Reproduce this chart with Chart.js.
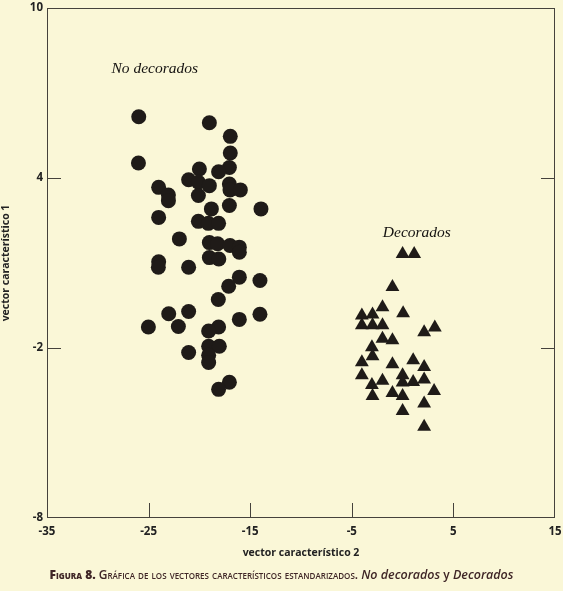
<!DOCTYPE html>
<html>
<head>
<meta charset="utf-8">
<script src="https://cdn.jsdelivr.net/npm/chart.js@4.4.1/dist/chart.umd.min.js"></script>
<style>
  html, body { margin: 0; padding: 0; background: #faf7d7; }
  #wrap { position: relative; width: 563px; height: 591px; }
  #caption {
    position: absolute; left: 0; width: 563px; top: 566px;
    text-align: center; font-family: "Open Sans", sans-serif; font-size: 12px;
    font-weight: 600; font-variant: small-caps; color: #3f2626;
  }
  #caption i { font-variant: normal; font-weight: 600; font-size: 12.5px; }
</style>
</head>
<body>
<div id="wrap">
  <canvas id="chart" width="563" height="591"></canvas>
  <div id="caption"><b>Figura 8.</b> Gráfica de los vectores característicos estandarizados. <i>No decorados</i> <span style="font-variant:normal">y</span> <i>Decorados</i></div>
</div>
<script>
// vector característico 2 (x) / vector característico 1 (y)
const noDecoradosX = [-25.97, -19.02, -16.96, -16.96, -17.05, -26.0, -20.0, -18.11, -21.06, -20.10,
  -19.02, -24.01, -17.05, -16.99, -15.97, -23.05, -23.05, -20.10, -13.94, -17.05,
  -18.82, -24.01, -20.10, -19.12, -18.11, -21.97, -19.02, -18.21, -16.99, -16.07,
  -16.07, -19.02, -18.09, -24.01, -24.04, -21.06, -16.07, -14.04, -17.12, -18.14,
  -23.02, -21.06, -14.04, -16.07, -25.02, -22.07, -18.11, -19.09, -19.09, -18.04,
  -19.09, -21.06, -19.09, -17.05, -18.11];
const noDecoradosY = [6.16, 5.95, 5.47, 4.88, 4.37, 4.53, 4.32, 4.22, 3.94, 3.85,
  3.73, 3.67, 3.79, 3.58, 3.58, 3.40, 3.20, 3.38, 2.91, 3.03,
  2.91, 2.61, 2.47, 2.40, 2.40, 1.85, 1.72, 1.68, 1.62, 1.56,
  1.38, 1.19, 1.14, 1.04, 0.85, 0.85, 0.50, 0.38, 0.18, -0.29,
  -0.79, -0.71, -0.81, -0.99, -1.26, -1.24, -1.26, -1.40, -1.94, -1.94,
  -2.26, -2.16, -2.51, -3.21, -3.46];

const decoradosX = [0.0, 1.14, -1.0, -1.98, 0.05, -4.01, -2.96, -4.01, -2.96, -1.98,
  2.12, 3.17, -1.98, -1.0, -3.02, -2.96, -4.01, -1.0, 1.04, 2.12,
  -4.01, 0.0, -1.98, 0.0, 1.04, 2.12, -3.02, 3.10, -1.0, -2.96,
  0.0, 2.12, 0.0, 2.12];
const decoradosY = [1.32, 1.32, 0.15, -0.56, -0.77, -0.85, -0.82, -1.20, -1.20, -1.20,
  -1.44, -1.28, -1.67, -1.73, -1.97, -2.29, -2.50, -2.57, -2.43, -2.67,
  -2.96, -2.96, -3.16, -3.22, -3.20, -3.11, -3.31, -3.52, -3.59, -3.69,
  -3.69, -3.96, -4.22, -4.78];

const xTicks = [-35, -25, -15, -5, 5, 15];
const yTicks = [-8, -2, 4, 10];
const groupNames = ["No decorados", "Decorados"];

const ink = "#1f1b18";
const axisFont = { family: "'Open Sans', sans-serif", size: 11.5, weight: "bold" };
const titleFont = { family: "'Open Sans', sans-serif", size: 10.5, weight: "bold" };

function toPoints(xs, ys) {
  return xs.map((x, i) => ({ x: x, y: ys[i] }));
}

// frame round the plot area, inward tick marks and the two group labels
const framePlugin = {
  id: "frame",
  afterDraw(chart) {
    const ctx = chart.ctx;
    const a = chart.chartArea;
    const xs = chart.scales.x, ys = chart.scales.y;
    ctx.save();
    ctx.strokeStyle = "#45423c";
    ctx.lineWidth = 1;
    ctx.strokeRect(a.left + 0.5, a.top + 0.5, a.right - a.left - 1, a.bottom - a.top - 1);
    ctx.beginPath();
    xTicks.slice(1, -1).forEach(v => {
      const px = Math.round(xs.getPixelForValue(v)) + 0.5;
      ctx.moveTo(px, a.bottom);
      ctx.lineTo(px, a.bottom - 15);
    });
    yTicks.slice(1, -1).forEach(v => {
      const py = Math.round(ys.getPixelForValue(v)) + 0.5;
      ctx.moveTo(a.left, py);
      ctx.lineTo(a.left + 14, py);
      ctx.moveTo(a.right, py);
      ctx.lineTo(a.right - 14, py);
    });
    ctx.stroke();

    ctx.fillStyle = "#141210";
    ctx.font = "italic 15.5px 'Liberation Serif', serif";
    ctx.textAlign = "center";
    ctx.textBaseline = "middle";
    ctx.fillText(groupNames[0], xs.getPixelForValue(-24.4), ys.getPixelForValue(7.85));
    ctx.fillText(groupNames[1], xs.getPixelForValue(1.4), ys.getPixelForValue(2.05));
    ctx.restore();
  }
};

new Chart(document.getElementById("chart"), {
  type: "scatter",
  data: {
    datasets: [{
      label: groupNames[0],
      data: toPoints(noDecoradosX, noDecoradosY),
      pointStyle: "circle",
      pointRadius: 7.5,
      backgroundColor: ink,
      borderColor: ink,
      borderWidth: 0
    }, {
      label: groupNames[1],
      data: toPoints(decoradosX, decoradosY),
      pointStyle: "triangle",
      pointRadius: 8,
      backgroundColor: ink,
      borderColor: ink,
      borderWidth: 0
    }]
  },
  options: {
    responsive: false,
    animation: false,
    layout: { padding: { left: 0, right: 5, top: 6, bottom: 32 } },
    plugins: {
      legend: { display: false },
      tooltip: { enabled: false }
    },
    scales: {
      x: {
        type: "linear",
        min: -35,
        max: 15,
        afterBuildTicks: s => { s.ticks = xTicks.map(v => ({ value: v })); },
        afterFit: s => { s.height = 41; s.paddingLeft = 0; s.paddingRight = 0; },
        grid: { display: false, drawTicks: false },
        border: { display: false },
        ticks: { color: "#222", font: axisFont, padding: 7, maxRotation: 0, autoSkip: false },
        title: {
          display: true,
          text: "vector característico 2",
          color: "#222",
          font: titleFont,
          padding: { top: 0, bottom: 0 }
        }
      },
      y: {
        type: "linear",
        min: -8,
        max: 10,
        afterBuildTicks: s => { s.ticks = yTicks.map(v => ({ value: v })); },
        afterFit: s => { s.width = 47; s.paddingTop = 0; s.paddingBottom = 0; },
        grid: { display: false, drawTicks: false },
        border: { display: false },
        ticks: { color: "#222", font: axisFont, padding: 4, autoSkip: false },
        title: {
          display: true,
          text: "vector característico 1",
          color: "#222",
          font: titleFont,
          padding: { top: 0, bottom: 0 }
        }
      }
    }
  },
  plugins: [framePlugin]
});
</script>
</body>
</html>
